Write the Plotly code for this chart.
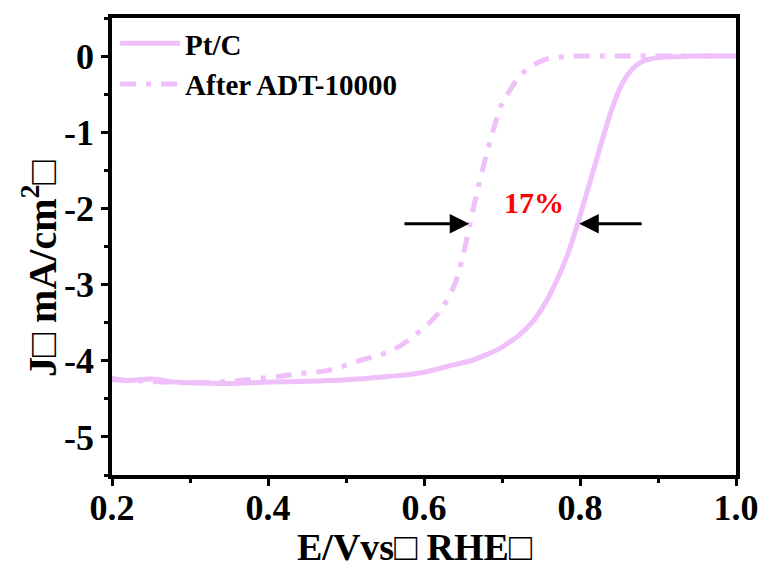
import plotly.graph_objects as go

# Pt/C (initial)
ptc_E = [0.20, 0.22, 0.25, 0.28, 0.30, 0.35, 0.40, 0.45, 0.50, 0.55, 0.60, 0.635, 0.66, 0.68, 0.70,
         0.72, 0.74, 0.755, 0.77, 0.785, 0.797, 0.81, 0.82, 0.83, 0.84, 0.85, 0.86, 0.87, 0.88,
         0.90, 0.92, 0.95, 1.00]
ptc_J = [-4.23, -4.26, -4.24, -4.28, -4.29, -4.30, -4.28, -4.27, -4.25, -4.21, -4.15, -4.06, -4.00,
         -3.92, -3.82, -3.68, -3.48, -3.25, -2.95, -2.58, -2.20, -1.75, -1.40, -1.05, -0.72, -0.45,
         -0.26, -0.14, -0.07, -0.02, -0.01, 0.00, 0.00]

# After ADT-10000
adt_E = [0.20, 0.25, 0.30, 0.35, 0.40, 0.44, 0.48, 0.52, 0.55, 0.57, 0.59, 0.61, 0.625, 0.64, 0.65,
         0.66, 0.67, 0.68, 0.69, 0.70, 0.71, 0.72, 0.73, 0.745, 0.76, 0.78, 0.80, 0.85, 0.90, 0.95, 1.00]
adt_J = [-4.25, -4.27, -4.29, -4.27, -4.22, -4.17, -4.12, -3.99, -3.90, -3.80, -3.65, -3.47, -3.28,
         -2.98, -2.62, -2.15, -1.70, -1.30, -0.93, -0.62, -0.45, -0.30, -0.19, -0.09, -0.03, -0.01,
         0.00, 0.00, 0.00, 0.00, 0.00]

x_ticks = [0.2, 0.4, 0.6, 0.8, 1.0]
x_labels = ["0.2", "0.4", "0.6", "0.8", "1.0"]
y_ticks = [0, -1, -2, -3, -4, -5]
y_labels = ["0", "-1", "-2", "-3", "-4", "-5"]

x_title = "E/Vvs□ RHE□"
y_title = "J□ mA/cm<sup>2</sup>□"

# annotation anchors
arrow_y = -2.2
left_head, left_tail = 0.658, 0.573
right_head, right_tail = 0.799, 0.881
label_pos = (0.741, -1.92)

color = "#EFC0FA"
font = "Liberation Serif, Times New Roman, serif"

fig = go.Figure()
fig.add_trace(go.Scatter(x=ptc_E, y=ptc_J, mode="lines", name="<b>Pt/C</b>",
                         line=dict(color=color, width=5, shape="spline")))
fig.add_trace(go.Scatter(x=adt_E, y=adt_J, mode="lines", name="<b>After ADT-10000</b>",
                         line=dict(color=color, width=5, dash="16px,10px,5px,10px", shape="spline")))

fig.add_annotation(x=left_head, y=arrow_y, ax=left_tail, ay=arrow_y, xref="x", yref="y",
                   axref="x", ayref="y", showarrow=True, arrowhead=2, arrowsize=1.3,
                   arrowwidth=3, arrowcolor="black", text="")
fig.add_annotation(x=right_head, y=arrow_y, ax=right_tail, ay=arrow_y, xref="x", yref="y",
                   axref="x", ayref="y", showarrow=True, arrowhead=2, arrowsize=1.3,
                   arrowwidth=3, arrowcolor="black", text="")
fig.add_annotation(x=label_pos[0], y=label_pos[1], text="<b>17%</b>", showarrow=False,
                   font=dict(family=font, size=30, color="red"))

# axis titles
fig.add_annotation(x=0.484, y=-0.158, xref="paper", yref="paper", showarrow=False,
                   text="<b>%s</b>" % x_title, xanchor="center", yanchor="middle",
                   font=dict(family=font, size=38, color="black"))
fig.add_annotation(x=-0.116, y=0.452, xref="paper", yref="paper", showarrow=False,
                   text="<b>%s</b>" % y_title, textangle=-90, xanchor="center", yanchor="middle",
                   font=dict(family=font, size=40, color="black"))

axis_common = dict(showline=True, linewidth=3.5, linecolor="black", mirror=True,
                   ticks="outside", ticklen=7, tickwidth=3, tickcolor="black",
                   showgrid=False, zeroline=False, automargin=False,
                   tickfont=dict(family=font, size=36, color="black"))

fig.update_xaxes(range=[0.2, 1.0], tickvals=x_ticks, ticktext=["<b>%s</b>" % t for t in x_labels],
                 minor=dict(ticks="outside", ticklen=4, tickwidth=3, dtick=0.1, tick0=0.2, tickcolor="black"),
                 ticklabelstandoff=-9, **axis_common)
fig.update_yaxes(range=[-5.5, 0.5], tickvals=y_ticks, ticktext=["<b>%s</b>" % t for t in y_labels],
                 minor=dict(ticks="outside", ticklen=4, tickwidth=3, dtick=0.5, tick0=0, tickcolor="black"),
                 **axis_common)

fig.update_layout(width=763, height=572, plot_bgcolor="white", paper_bgcolor="white",
                  margin=dict(l=112, r=27, t=18, b=97),
                  legend=dict(x=0.005, y=1.0, xanchor="left", yanchor="top",
                              bgcolor="rgba(0,0,0,0)", font=dict(family=font, size=29, color="black"),
                              itemwidth=60, tracegroupgap=0),
                  font=dict(family=font))

fig.write_html("out.html", config={"displayModeBar": False},
               post_script="document.body.style.margin='0';")
